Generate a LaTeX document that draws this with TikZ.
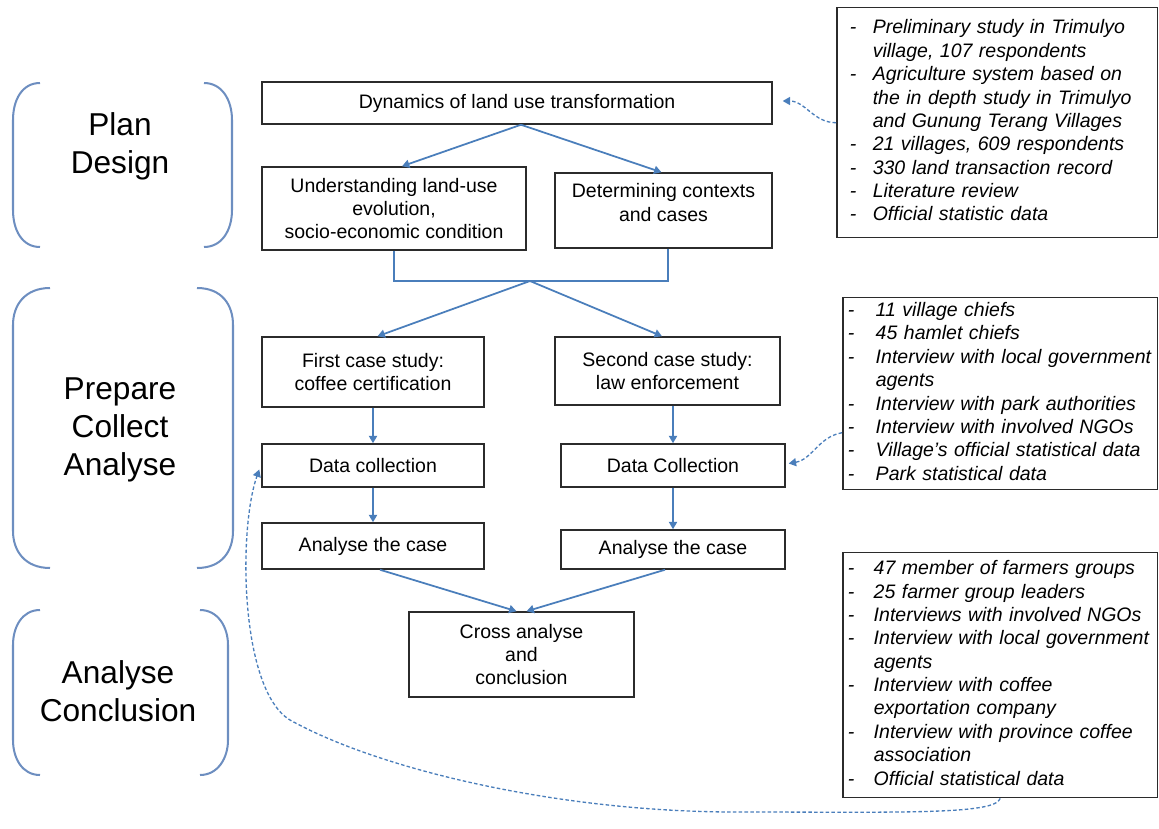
\documentclass[tikz,border=0pt]{standalone}
\usepackage{fontspec}
\setmainfont{Liberation Sans}
\usetikzlibrary{arrows.meta,calc}
\definecolor{flow}{HTML}{4A7EBB}
\definecolor{brace}{HTML}{6D8EC0}
\definecolor{frame}{HTML}{2B2B2B}

\begin{document}
\begin{tikzpicture}[x=0.02cm,y=-0.02cm,
  box/.style={draw=frame,line width=0.85pt,fill=white,align=center,inner sep=0pt,
    font=\fontsize{11.1}{13.3}\selectfont},
  conn/.style={draw=flow,line width=1.0pt},
  arr/.style={conn,-{Triangle[length=4.2pt,width=4.6pt]}},
  dsh/.style={draw=flow,line width=0.75pt,dash pattern=on 2pt off 1.3pt,
    -{Triangle[length=4.2pt,width=4.6pt]}},
  stage/.style={font=\fontsize{18}{21.8}\selectfont,align=center,inner sep=0pt},
  paren/.style={draw=brace,line width=1.15pt},
  note/.style={draw=frame,line width=0.85pt,fill=white,anchor=north west,align=left,
    font=\fontsize{11.1}{13.3}\selectfont\itshape,inner ysep=0pt}
]
\useasboundingbox (0,0) rectangle (1159,828);

% stage labels and their round brackets
\node[stage] (plan) at (120,146) {Plan\\Design};
\node[stage] (prep) at (120,430) {Prepare\\Collect\\Analyse};
\node[stage] (concl) at (118,691) {Analyse\\Conclusion};

\draw[paren] (40,83) .. controls (22,83) and (13,100) .. (13,120) -- (13,210)
  .. controls (13,230) and (22,247) .. (40,247);
\draw[paren] (204,83) .. controls (222,83) and (232,100) .. (232,120) -- (232,210)
  .. controls (232,230) and (222,247) .. (204,247);
\draw[paren] (50,288) .. controls (25,288) and (13,305) .. (13,325) -- (13,531)
  .. controls (13,551) and (25,568) .. (50,568);
\draw[paren] (197,288) .. controls (222,288) and (233,305) .. (233,325) -- (233,531)
  .. controls (233,551) and (222,568) .. (197,568);
\draw[paren] (40,610) .. controls (22,610) and (13,627) .. (13,645) -- (13,740)
  .. controls (13,758) and (22,775) .. (40,775);
\draw[paren] (200,610) .. controls (218,610) and (228,627) .. (228,645) -- (228,740)
  .. controls (228,758) and (218,775) .. (200,775);

% process boxes
\node[box,minimum width=10.2cm,minimum height=0.84cm] (top) at (517,103)
  {Dynamics of land use transformation};
\node[box,minimum width=5.28cm,minimum height=1.66cm] (und) at (394,208.5)
  {Understanding land-use\\evolution,\\socio-economic condition};
\node[box,minimum width=4.34cm,minimum height=1.5cm] (det) at (663.5,210.5)
  {Determining contexts\\and cases\\[-4.2pt]\mbox{}};
\node[box,minimum width=4.44cm,minimum height=1.4cm] (first) at (373,372)
  {First case study:\\coffee certification};
\node[box,minimum width=4.5cm,minimum height=1.36cm] (second) at (667.5,371)
  {Second case study:\\law enforcement};
\node[box,minimum width=4.44cm,minimum height=0.86cm] (dc1) at (373,465.5)
  {Data collection};
\node[box,minimum width=4.48cm,minimum height=0.86cm] (dc2) at (673,465.5)
  {Data Collection};
\node[box,minimum width=4.44cm,minimum height=0.92cm] (an1) at (373,546)
  {Analyse the case};
\node[box,minimum width=4.48cm,minimum height=0.78cm] (an2) at (673,549.5)
  {Analyse the case};
\node[box,minimum width=4.5cm,minimum height=1.7cm] (cross) at (521.5,654.5)
  {Cross analyse\\and\\conclusion};

% data source boxes
\node[note,minimum width=6.42cm,minimum height=4.6cm,inner xsep=0.26cm,text width=5.9cm]
  (srcA) at (836,7) {%
  \begin{tabular}{@{}p{0.46cm}@{}l@{}}
  - & Preliminary study in Trimulyo\\
    & village, 107 respondents\\
  - & Agriculture system based on\\
    & the in depth study in Trimulyo\\
    & and Gunung Terang Villages\\
  - & 21 villages, 609 respondents\\
  - & 330 land transaction record\\
  - & Literature review\\
  - & Official statistic data
  \end{tabular}};
\node[note,minimum width=6.3cm,minimum height=3.84cm,inner xsep=0.1cm,text width=6.1cm]
  (srcB) at (842,297) {%
  \begin{tabular}{@{}p{0.56cm}@{}l@{}}
  - & 11 village chiefs\\
  - & 45 hamlet chiefs\\
  - & Interview with local government\\
    & agents\\
  - & Interview with park authorities\\
  - & Interview with involved NGOs\\
  - & Village's official statistical data\\
  - & Park statistical data
  \end{tabular}};
\node[note,minimum width=6.3cm,minimum height=4.9cm,inner xsep=0.1cm,text width=6.1cm]
  (srcC) at (842,552) {%
  \begin{tabular}{@{}p{0.52cm}@{}l@{}}
  - & 47 member of farmers groups\\
  - & 25 farmer group leaders\\
  - & Interviews with involved NGOs\\
  - & Interview with local government\\
    & agents\\
  - & Interview with coffee\\
    & exportation company\\
  - & Interview with province coffee\\
    & association\\
  - & Official statistical data
  \end{tabular}};

% flow connectors
\coordinate (j) at (530,281);
\draw[arr] ($(top.south)+(4,0)$) -- ($(und.north)+(8,0)$);
\draw[arr] ($(top.south)+(4,0)$) -- ($(det.north)+(-2,0)$);
\draw[conn] (und.south) |- (j);
\draw[conn] ($(det.south)+(4.5,0)$) |- (j);
\draw[arr] (j) -- ($(first.north)+(4.5,0)$);
\draw[arr] (j) -- ($(second.north)+(-5.5,0)$);
\draw[arr] (first.south) -- (dc1.north);
\draw[arr] (dc2.north |- second.south) -- (dc2.north);
\draw[arr] (dc1.south) -- (an1.north);
\draw[arr] (dc2.south) -- (an2.north);
\draw[arr] ($(an1.south)+(7,0)$) -- ($(cross.north)+(-5,0)$);
\draw[arr] ($(an2.south)+(-8,0)$) -- ($(cross.north)+(5,0)$);

% data sources feeding the steps
\draw[dsh] (srcA.west) to[out=180,in=0] ($(top.east)+(10,-2)$);
\draw[dsh] ($(srcB.west)+(0,39)$) to[out=190,in=10] ($(dc2.east)+(3,-2)$);
\draw[dsh] (srcC.south) .. controls (995,815) and (900,812) .. (736,812)
  .. controls (560,812) and (380,770) .. (290,720)
  .. controls (240,690) and (238,530) .. ($(dc1.west)+(-2,4)$);
\end{tikzpicture}
\end{document}
